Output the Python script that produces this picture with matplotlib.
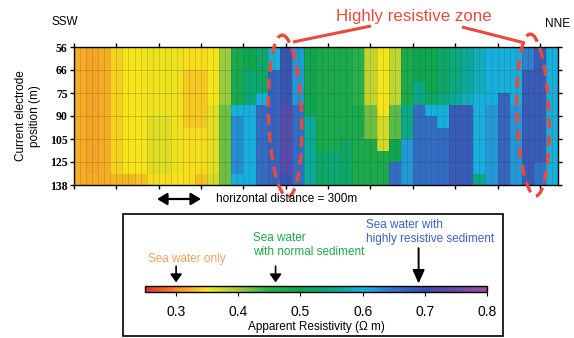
import numpy as np
import matplotlib.pyplot as plt
from matplotlib.colors import LinearSegmentedColormap, Normalize
from matplotlib.cm import ScalarMappable
from matplotlib.patches import Ellipse, Rectangle

plt.rcParams['font.family'] = ['Liberation Sans', 'DejaVu Sans']

# =========================
# DATA
# =========================
depth_labels = ['56', '66', '75', '90', '105', '125', '138']
cbar_ticks = [0.3, 0.4, 0.5, 0.6, 0.7, 0.8]

# apparent resistivity (ohm m), 12 rows (top -> bottom) x 40 columns (SSW -> NNE)
res_r0 = [.32, .315, .32, .34, .35, .35, .355, .355, .355, .345, .345, .35, .40, .48, .50, .52, .60, .69, .62, .50,
          .48, .48, .48, .46, .38, .35, .38, .48, .50, .50, .52, .54, .56, .58, .60, .60, .60, .64, .68, .60]
res_r1 = [.32, .315, .32, .34, .35, .35, .355, .355, .355, .345, .345, .35, .40, .48, .50, .52, .60, .69, .62, .50,
          .48, .48, .48, .46, .38, .35, .38, .48, .50, .50, .52, .54, .56, .58, .60, .60, .60, .64, .68, .60]
res_r2 = [.32, .315, .32, .34, .35, .35, .355, .355, .355, .335, .335, .35, .40, .48, .53, .52, .67, .69, .62, .50,
          .48, .48, .48, .46, .38, .35, .38, .48, .50, .50, .52, .54, .56, .58, .60, .60, .60, .68, .68, .60]
res_r3 = [.32, .315, .32, .34, .35, .35, .355, .355, .355, .335, .335, .35, .40, .48, .53, .52, .67, .69, .62, .50,
          .48, .48, .48, .46, .38, .35, .38, .48, .55, .50, .52, .54, .56, .58, .60, .60, .60, .68, .68, .60]
res_r4 = [.32, .315, .32, .34, .35, .35, .355, .355, .355, .335, .335, .35, .40, .48, .53, .60, .67, .69, .62, .50,
          .48, .48, .48, .46, .38, .35, .38, .48, .55, .52, .54, .56, .58, .60, .60, .67, .60, .68, .68, .60]
res_r5 = [.32, .315, .32, .34, .35, .35, .355, .355, .355, .335, .335, .36, .42, .60, .60, .66, .67, .73, .66, .50,
          .48, .48, .48, .48, .42, .35, .43, .55, .66, .60, .60, .68, .68, .60, .62, .67, .62, .68, .68, .60]
res_r6 = [.32, .315, .32, .34, .35, .35, .362, .362, .355, .335, .335, .36, .42, .63, .60, .66, .67, .73, .66, .56,
          .48, .48, .48, .48, .42, .37, .43, .55, .66, .66, .60, .68, .68, .60, .62, .67, .62, .68, .68, .60]
res_r7 = [.32, .315, .32, .34, .35, .35, .362, .362, .355, .345, .345, .36, .42, .63, .60, .66, .67, .73, .66, .56,
          .48, .48, .48, .48, .42, .37, .43, .55, .66, .66, .66, .68, .68, .60, .62, .67, .62, .68, .68, .60]
res_r8 = [.32, .315, .32, .34, .35, .35, .362, .362, .355, .345, .345, .36, .42, .63, .60, .66, .67, .73, .66, .56,
          .48, .48, .52, .48, .48, .37, .50, .62, .66, .66, .66, .68, .68, .60, .62, .67, .62, .68, .68, .60]
res_r9 = [.32, .315, .32, .34, .35, .35, .362, .362, .355, .345, .345, .36, .42, .63, .60, .66, .67, .73, .66, .56,
          .52, .53, .52, .48, .48, .48, .50, .62, .66, .66, .66, .68, .68, .60, .62, .67, .62, .68, .68, .60]
res_r10 = [.32, .315, .32, .34, .35, .35, .362, .362, .355, .345, .345, .36, .42, .63, .60, .66, .67, .73, .66, .56,
           .52, .53, .52, .48, .48, .48, .66, .62, .66, .66, .66, .68, .68, .60, .62, .67, .62, .68, .65, .60]
res_r11 = [.32, .32, .32, .325, .325, .33, .345, .345, .35, .345, .33, .37, .42, .60, .60, .66, .67, .69, .66, .56,
           .52, .53, .52, .48, .48, .48, .66, .62, .66, .66, .66, .68, .68, .55, .62, .67, .62, .68, .65, .60]

resistivity = np.array([res_r0, res_r1, res_r2, res_r3, res_r4, res_r5,
                        res_r6, res_r7, res_r8, res_r9, res_r10, res_r11])

# legend arrows point at these values on the colour bar
marker_values = [0.30, 0.46, 0.69]

# =========================
# COLOUR MAP
# =========================
cmap = LinearSegmentedColormap.from_list('resist', [
    (0.00, '#e62e2e'),
    (0.09, '#f28a2a'),
    (0.18, '#f6e41a'),
    (0.27, '#9ccb3c'),
    (0.36, '#2db24a'),
    (0.45, '#10a64c'),
    (0.55, '#0aa88c'),
    (0.64, '#18b0e0'),
    (0.73, '#3272c8'),
    (0.82, '#3a4cab'),
    (0.91, '#6a4aa8'),
    (1.00, '#a84a9a'),
])
norm = Normalize(0.25, 0.8)

W, H = 574, 338
fig = plt.figure(figsize=(W / 100, H / 100), dpi=100)

def frac(x0, y0, x1, y1):
    return [x0 / W, 1 - y1 / H, (x1 - x0) / W, (y1 - y0) / H]

# =========================
# MAIN SECTION
# =========================
ax = fig.add_axes(frac(74, 47, 558, 185))
nrow, ncol = resistivity.shape
ax.pcolormesh(np.arange(ncol + 1), np.arange(nrow + 1), resistivity, cmap=cmap, norm=norm)

# fine survey grid
for xg in np.arange(0, ncol, 0.5):
    ax.axvline(xg, color='#3a3a3a', lw=0.5, alpha=0.25)
for yg in np.arange(0, nrow + 1, 2):
    ax.axhline(yg, color='#3a3a3a', lw=0.5, alpha=0.3)

ax.set_xlim(0, ncol)
ax.set_ylim(nrow, 0)
ax.set_yticks(np.arange(0, nrow + 1, 2))
ax.set_yticklabels(depth_labels, fontfamily='Liberation Serif', fontweight='bold', fontsize=8.5)
ax.set_xticks(np.arange(0, ncol, 3.5))
ax.tick_params(axis='both', direction='out', length=3, width=1, pad=1.5,
               top=True, right=True, labelbottom=False)
for sp in ax.spines.values():
    sp.set_linewidth(1)

# =========================
# COLOUR BAR
# =========================
cax = fig.add_axes(frac(145, 286, 487, 292))
cb = fig.colorbar(ScalarMappable(norm=norm, cmap=cmap), cax=cax, orientation='horizontal')
cb.set_ticks(cbar_ticks)
cb.set_ticklabels([f'{t:.1f}' for t in cbar_ticks])
cb.outline.set_linewidth(1)
cax.tick_params(length=3, width=0.8, pad=6, labelsize=10)
cb.set_label('Apparent Resistivity (\u03a9 m)', fontsize=8.5, labelpad=2)

arrow_fmt = [(4.3, 1.6, '-|>,head_length=0.35,head_width=0.25', 14, 1.2),
             (4.3, 1.6, '-|>,head_length=0.35,head_width=0.25', 14, 1.2),
             (7.3, 1.4, '-|>,head_length=0.45,head_width=0.2', 18, 1.4)]
for v, (tail, head, style, ms, lw) in zip(marker_values, arrow_fmt):
    cax.annotate('', xy=(v, head), xycoords=('data', 'axes fraction'),
                 xytext=(v, tail), textcoords=('data', 'axes fraction'),
                 arrowprops=dict(arrowstyle=style, color='black', lw=lw,
                                 mutation_scale=ms, shrinkA=0, shrinkB=0),
                 annotation_clip=False)

# =========================
# ANNOTATIONS (pixel overlay)
# =========================
ov = fig.add_axes([0, 0, 1, 1], zorder=5)
ov.set_xlim(0, W)
ov.set_ylim(H, 0)
ov.axis('off')

red = '#ea4a3e'
ov.text(52, 22, 'SSW', fontsize=8.5, va='center', ha='left')
ov.text(545, 24, 'NNE', fontsize=8.5, va='center', ha='left')
ov.text(414, 17, 'Highly resistive zone', fontsize=12.2, color=red, va='center', ha='center')
ov.plot([293, 371], [42, 26], color=red, lw=2.2, solid_capstyle='butt')
ov.plot([462, 525], [27, 43], color=red, lw=2.2, solid_capstyle='butt')
for cx, cy, w, h, ang in [(285, 116, 33, 162, -2), (533, 115, 32, 162, -2)]:
    ov.add_patch(Ellipse((cx, cy), w, h, angle=ang, fill=False, edgecolor=red,
                         lw=2.4, linestyle=(0, (3.3, 2))))

ov.text(28, 116, 'Current electrode\nposition (m)', fontsize=8.5, rotation=90,
        ha='center', va='center', multialignment='center')

ov.annotate('', xy=(157, 199), xytext=(201, 199),
            arrowprops=dict(arrowstyle='<|-|>,head_length=0.5,head_width=0.3', color='black',
                            lw=1.6, mutation_scale=12, shrinkA=0, shrinkB=0))
ov.text(216, 199, 'horizontal distance = 300m', fontsize=8.5, va='center', ha='left')

ov.add_patch(Rectangle((123, 214), 380, 122, fill=False, edgecolor='black', lw=1.2))
ov.text(148, 259, 'Sea water only', fontsize=8.5, color='#f4a062', va='center', ha='left')
ov.text(253, 245, 'Sea water\nwith normal sediment', fontsize=8.5, color='#1ea848',
        va='center', ha='left')
ov.text(366, 232, 'Sea water with\nhighly resistive sediment', fontsize=8.5, color='#3a62c8',
        va='center', ha='left')

fig.savefig('out.png', dpi=100)
